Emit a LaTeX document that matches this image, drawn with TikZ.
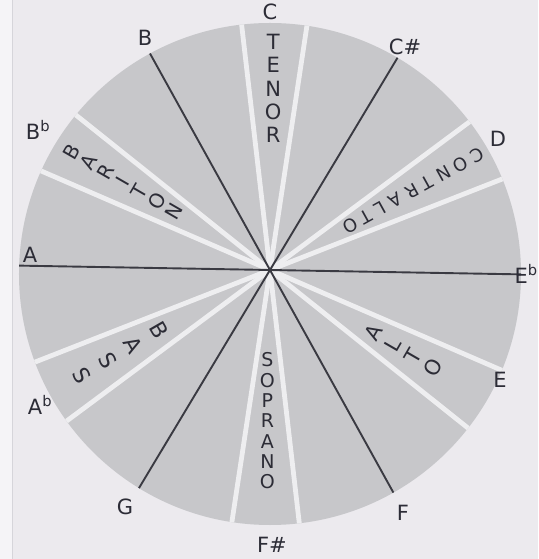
\documentclass[tikz,border=0pt]{standalone}
\usepackage{fontspec}
\setmainfont{DejaVu Sans}
\definecolor{paper}{HTML}{ECEAEE}
\definecolor{paperedge}{HTML}{F5F4F7}
\definecolor{edgeline}{HTML}{D6D5DA}
\definecolor{disc}{HTML}{C7C7CA}
\definecolor{stripe}{HTML}{EEEEF0}
\definecolor{ink}{HTML}{2C2C36}
\definecolor{rule}{HTML}{3A3A42}
\newcommand\gapc{\hspace{6pt}}
\begin{document}
\begin{tikzpicture}[x=1pt,y=1pt,
  note/.style={font=\fontsize{21}{21}\selectfont, text=ink, inner sep=0pt},
  word/.style={text=ink, inner sep=0pt, align=center},
  whitestripe/.style={draw=stripe, line width=4.8pt},
  darkline/.style={draw=rule, line width=1.9pt}]
\useasboundingbox (-270,-289) rectangle (268,270);
\fill[paper] (-270,-289) rectangle (268,270);
\fill[paperedge] (-270,-289) rectangle (-258,270);
\draw[edgeline, line width=0.8pt] (-258,-289) -- (-258,270);
\coordinate (O) at (0,0);
\coordinate (discc) at (0,-4);
\fill[disc] (discc) circle (251);
\begin{scope}
  \clip (discc) circle (251);
  \foreach \a [count=\k] in {81.4,96.6,21.4,36.6,-38.6,-23.4,-98.6,-83.4,201.4,216.6,141.4,156.6}{
    \coordinate (stripeend\k) at (\a:262);
    \draw[whitestripe] (O) -- (stripeend\k);
  }
  \foreach \a/\b [count=\k] in {119/299,59/239,179/359}{
    \coordinate (lineA\k) at (\a:262);
    \coordinate (lineB\k) at (\b:262);
    \draw[darkline] (lineA\k) -- (lineB\k);
  }
\end{scope}
% voice words
\node[word, font=\fontsize{21}{23.2}\selectfont] (tenor) at (89:181.5) {T\\E\\N\\O\\R};
\node[word, font=\fontsize{19}{20.3}\selectfont] (soprano) at (-91:151) {S\\O\\P\\R\\A\\N\\O};
\node[word, font=\fontsize{18}{18}\selectfont, rotate=209] (contralto) at (29:164)
  {C\gapc O\gapc N\gapc T\gapc R\gapc A\gapc L\gapc T\gapc O};
\node[word, font=\fontsize{20}{19.7}\selectfont, rotate=60] (bariton) at (149:172) {B\\A\\R\\I\\T\\O\\N};
\node[word, font=\fontsize{21}{23}\selectfont, rotate=60] (alto) at (-31:155.5) {A\\L\\T\\O};
\node[word, font=\fontsize{22}{30}\selectfont, rotate=-60] (bass) at (209:171) {B\\A\\S\\S};
% note names
\node[note] (nC) at (0,258) {C};
\node[note] (nCs) at (135,223) {C\#};
\node[note] (nD) at (228,131) {D};
\node[note, anchor=east] (nEb) at (268,-4) {E\textsuperscript{b}};
\node[note] (nE) at (230,-110) {E};
\node[note] (nF) at (133,-243) {F};
\node[note] (nFs) at (2,-275) {F\#};
\node[note] (nG) at (-145,-237) {G};
\node[note] (nAb) at (-230,-135) {A\textsuperscript{b}};
\node[note] (nA) at (-240,15) {A};
\node[note] (nBb) at (-232,140) {B\textsuperscript{b}};
\node[note] (nB) at (-125,232) {B};
\end{tikzpicture}
\end{document}
